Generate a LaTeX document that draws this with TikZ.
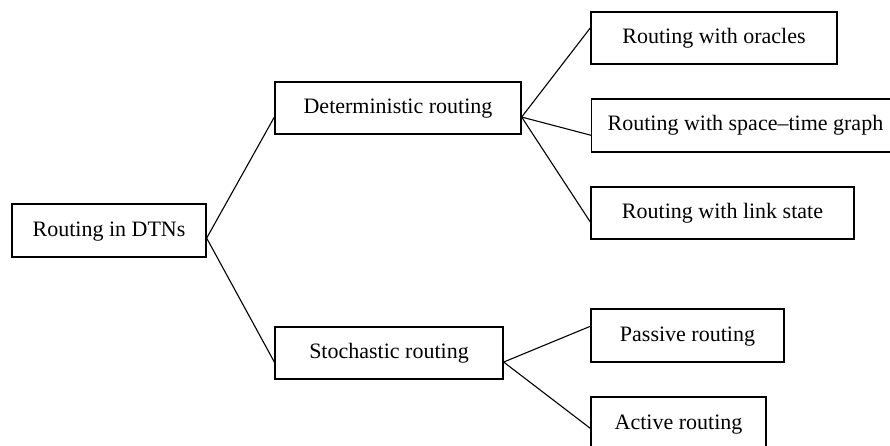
\documentclass[tikz,border=0pt]{standalone}
\usepackage{fontspec}
\setmainfont{Liberation Serif}
\usetikzlibrary{calc}
\begin{document}
\begin{tikzpicture}[x=1pt,y=-1pt,
  box/.style={draw, line width=1.3pt, rectangle, inner sep=0pt,
    font=\fontsize{22}{26}\selectfont, text height=15pt, text depth=4pt},
  link/.style={line width=1.1pt}]
\useasboundingbox (0,0) rectangle (890,446);
\clip (0,0) rectangle (890,446);

% tree nodes
\node[box, minimum width=194pt, minimum height=53pt] (root) at (109,230.5) {Routing in DTNs};
\node[box, minimum width=246pt, minimum height=52pt] (det) at (398,108) {Deterministic routing};
\node[box, minimum width=228pt, minimum height=52pt] (sto) at (389,353) {Stochastic routing};
\node[box, minimum width=246pt, minimum height=52pt] (ora) at (714,38) {Routing with oracles};
\node[box, minimum width=340pt, minimum height=53pt, anchor=west] (stg) at (591,125.5)
  {\makebox[340pt][l]{\hspace{16pt}Routing with space--time graph}};
\node[box, minimum width=263pt, minimum height=52pt] (lst) at (722.5,213) {Routing with link state};
\node[box, minimum width=193pt, minimum height=53pt] (pas) at (687.5,335.5) {Passive routing};
\node[box, minimum width=175pt, minimum height=53pt] (act) at (678.5,423.5) {Active routing};

% connectors
\draw[link] ($(root.north east)!0.64!(root.south east)$) -- ($(det.north west)!0.67!(det.south west)$);
\draw[link] ($(root.north east)!0.64!(root.south east)$) -- ($(sto.north west)!0.67!(sto.south west)$);
\draw[link] ($(det.north east)!0.67!(det.south east)$) -- ($(ora.north west)!0.31!(ora.south west)$);
\draw[link] ($(det.north east)!0.67!(det.south east)$) -- ($(stg.north west)!0.68!(stg.south west)$);
\draw[link] ($(det.north east)!0.67!(det.south east)$) -- ($(lst.north west)!0.67!(lst.south west)$);
\draw[link] ($(sto.north east)!0.67!(sto.south east)$) -- ($(pas.north west)!0.33!(pas.south west)$);
\draw[link] ($(sto.north east)!0.67!(sto.south east)$) -- ($(act.north west)!0.59!(act.south west)$);
\end{tikzpicture}
\end{document}
